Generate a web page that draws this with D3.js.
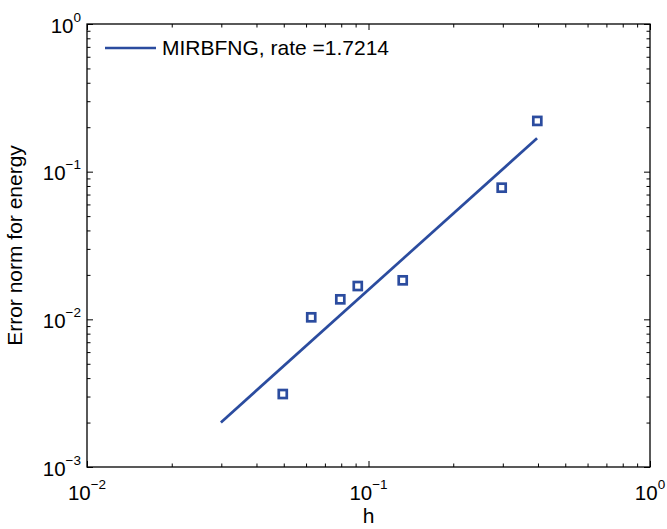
<!DOCTYPE html>
<html>
<head>
<meta charset="utf-8">
<script src="https://cdn.jsdelivr.net/npm/d3@7"></script>
<style>
  html, body { margin: 0; padding: 0; background: #fff; }
  svg { display: block; }
  text { font-family: "Liberation Sans", Arial, Helvetica, sans-serif; fill: #000; }
</style>
</head>
<body>
<svg id="chart" width="667" height="529"></svg>
<script>
// ---- data ----
const hValues = [0.0496, 0.0626, 0.0794, 0.0916, 0.1323, 0.2973, 0.3978];
const errValues = [0.00312, 0.01032, 0.01366, 0.01681, 0.01837, 0.0779, 0.2206];
const fitH = [0.0299, 0.397];
const fitErr = [0.002004, 0.1684];
const legendLabel = "MIRBFNG, rate =1.7214";
const xTickExps = [-2, -1, 0];
const yTickExps = [-3, -2, -1, 0];
const xLabel = "h";
const yLabel = "Error norm for energy";

// ---- layout ----
const pLeft = 87, pRight = 650, pTop = 24, pBottom = 467;
const color = "#2b4c9f";
const svg = d3.select("#chart");

const x = d3.scaleLog().domain([1e-2, 1e0]).range([pLeft, pRight]);
const y = d3.scaleLog().domain([1e-3, 1e0]).range([pBottom, pTop]);

function minorTicks(scale) {
  const [a, b] = scale.domain();
  const out = [];
  for (let e = Math.round(Math.log10(a)); e < Math.round(Math.log10(b)); e++) {
    for (let m = 2; m <= 9; m++) out.push(m * Math.pow(10, e));
  }
  return out;
}
const xMajor = xTickExps.map(e => Math.pow(10, e));
const yMajor = yTickExps.map(e => Math.pow(10, e));

const major = 6, minor = 3.5;
function drawAxis(gen, transform) {
  const g = svg.append("g").attr("transform", transform).call(gen);
  g.select(".domain").remove();
  g.selectAll("line").attr("stroke", "#000").attr("stroke-width", 1);
  g.selectAll("text").remove();
}
drawAxis(d3.axisBottom(x).tickValues(xMajor).tickSize(-major).tickFormat(""), `translate(0,${pBottom})`);
drawAxis(d3.axisBottom(x).tickValues(minorTicks(x)).tickSize(-minor).tickFormat(""), `translate(0,${pBottom})`);
drawAxis(d3.axisTop(x).tickValues(xMajor).tickSize(-major).tickFormat(""), `translate(0,${pTop})`);
drawAxis(d3.axisTop(x).tickValues(minorTicks(x)).tickSize(-minor).tickFormat(""), `translate(0,${pTop})`);
drawAxis(d3.axisLeft(y).tickValues(yMajor).tickSize(-major).tickFormat(""), `translate(${pLeft},0)`);
drawAxis(d3.axisLeft(y).tickValues(minorTicks(y)).tickSize(-minor).tickFormat(""), `translate(${pLeft},0)`);
drawAxis(d3.axisRight(y).tickValues(yMajor).tickSize(-major).tickFormat(""), `translate(${pRight},0)`);
drawAxis(d3.axisRight(y).tickValues(minorTicks(y)).tickSize(-minor).tickFormat(""), `translate(${pRight},0)`);

// box
svg.append("rect")
  .attr("x", pLeft).attr("y", pTop)
  .attr("width", pRight - pLeft).attr("height", pBottom - pTop)
  .attr("fill", "none").attr("stroke", "#000").attr("stroke-width", 1.3);

// tick labels
function expText(e) { return e < 0 ? "\u2212" + (-e) : String(e); }
const xl = svg.append("g");
xTickExps.forEach(e => {
  const t = xl.append("text")
    .attr("x", x(Math.pow(10, e))).attr("y", 500)
    .attr("text-anchor", "middle");
  t.append("tspan").attr("font-size", 20.5).text("10");
  t.append("tspan").attr("font-size", 13.5).attr("dy", -11).text(expText(e));
});
const yl = svg.append("g");
yTickExps.forEach(e => {
  const t = yl.append("text")
    .attr("x", pLeft - 6).attr("y", y(Math.pow(10, e)) + 8.5)
    .attr("text-anchor", "end");
  t.append("tspan").attr("font-size", 20.5).text("10");
  t.append("tspan").attr("font-size", 13.5).attr("dy", -11).text(expText(e));
});

// axis labels
svg.append("text").attr("x", (pLeft + pRight) / 2).attr("y", 523)
  .attr("text-anchor", "middle").attr("font-size", 21).text(xLabel);
svg.append("text")
  .attr("transform", `translate(22,${(pTop + pBottom) / 2}) rotate(-90)`)
  .attr("text-anchor", "middle").attr("font-size", 21).text(yLabel);

// fit line
svg.append("path")
  .datum(fitH.map((h, i) => [h, fitErr[i]]))
  .attr("fill", "none").attr("stroke", color).attr("stroke-width", 2.7)
  .attr("d", d3.line().x(d => x(d[0])).y(d => y(d[1])));

// markers
svg.append("g").selectAll("rect")
  .data(hValues.map((h, i) => [h, errValues[i]]))
  .join("rect")
  .attr("x", d => x(d[0]) - 4).attr("y", d => y(d[1]) - 4)
  .attr("width", 8).attr("height", 8)
  .attr("fill", "none").attr("stroke", color).attr("stroke-width", 2.7);

// legend
svg.append("line").attr("x1", 105).attr("x2", 156).attr("y1", 48).attr("y2", 48)
  .attr("stroke", color).attr("stroke-width", 2.7);
svg.append("text").attr("x", 162).attr("y", 55).attr("font-size", 21).text(legendLabel);
</script>
</body>
</html>
